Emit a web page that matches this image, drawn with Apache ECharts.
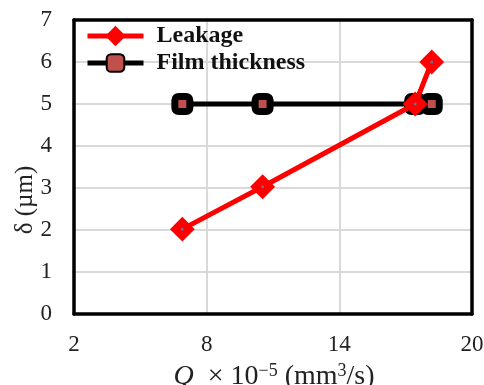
<!DOCTYPE html>
<html>
<head>
<meta charset="utf-8">
<script src="https://cdn.jsdelivr.net/npm/echarts@6/dist/echarts.min.js"></script>
<style>
html,body{margin:0;padding:0;background:#fff;}
#chart{width:484px;height:385px;}
</style>
</head>
<body>
<div id="chart"></div>
<script>
// Flow rate Q (×10^-5 mm³/s) and film thickness δ (µm)
const leakageQ = [6.9, 10.53, 17.43, 18.18];
const leakageDelta = [2.02, 3.03, 5.0, 6.0];
const filmQ = [6.9, 10.53, 17.43, 18.18];
const filmDelta = [5.0, 5.0, 5.0, 5.0];
const xTicks = [2, 8, 14, 20];
const yTicks = [0, 1, 2, 3, 4, 5, 6, 7];

const serif = '"Liberation Serif", "DejaVu Serif", serif';
const pairs = (xs, ys) => xs.map((x, i) => [x, ys[i]]);
const frame = { show: true, onZero: false, lineStyle: { color: '#000', width: 3.5 } };
const xMin = xTicks[0], xMax = xTicks[xTicks.length - 1];
const yMin = yTicks[0], yMax = yTicks[yTicks.length - 1];

const chart = echarts.init(document.getElementById('chart'));
chart.setOption({
  animation: false,
  backgroundColor: '#fff',
  grid: { left: 74, right: 12, top: 20, bottom: 71, outerBoundsMode: 'none', containLabel: false },
  legend: {
    left: 80, top: 19, orient: 'vertical', itemGap: 3,
    itemWidth: 56, itemHeight: 22,
    textStyle: { fontFamily: serif, fontWeight: 'bold', fontSize: 24, color: '#111', padding: [0, 0, 0, 8] },
    data: [
      { name: 'Leakage', lineStyle: { width: 5 } },
      { name: 'Film thickness', lineStyle: { width: 5 } }
    ]
  },
  xAxis: [{
    type: 'value', min: xMin, max: xMax, interval: 6,
    axisLine: frame, axisTick: { show: false },
    splitLine: { show: true, lineStyle: { color: '#d9d9d9', width: 2 } },
    axisLabel: { fontFamily: serif, fontSize: 23, color: '#222', margin: 19 },
    name: '{q|Q}{n|  × 10}{s|−5}{n| (mm}{s|3}{n|/s)}',
    nameLocation: 'middle', nameGap: 48, nameMoveOverlap: false,
    nameTextStyle: {
      padding: [0, 0, 0, 2],
      rich: {
        q: { fontFamily: serif, fontStyle: 'italic', fontSize: 28, color: '#222' },
        n: { fontFamily: serif, fontSize: 28, color: '#222' },
        s: { fontFamily: serif, fontSize: 18, color: '#222', verticalAlign: 'top', padding: [0, 0, 12, 0] }
      }
    }
  }, {
    type: 'value', position: 'top', min: xMin, max: xMax,
    axisLine: frame, axisTick: { show: false }, axisLabel: { show: false }, splitLine: { show: false }
  }],
  yAxis: [{
    type: 'value', min: yMin, max: yMax, interval: 1,
    axisLine: frame, axisTick: { show: false },
    splitLine: { show: true, lineStyle: { color: '#d9d9d9', width: 2 } },
    axisLabel: { fontFamily: serif, fontSize: 23, color: '#222', margin: 22 },
    name: 'δ (µm)', nameLocation: 'middle', nameGap: 36, nameMoveOverlap: false,
    nameTextStyle: { fontFamily: serif, fontSize: 25, color: '#222', padding: [0, 66, 0, 0] }
  }, {
    type: 'value', position: 'right', min: yMin, max: yMax,
    axisLine: frame, axisTick: { show: false }, axisLabel: { show: false }, splitLine: { show: false }
  }],
  series: [
    {
      name: 'Film thickness', type: 'line', z: 2,
      data: pairs(filmQ, filmDelta),
      lineStyle: { color: '#000', width: 5 },
      symbol: 'roundRect', symbolSize: 15,
      itemStyle: { color: '#c0504d', borderColor: '#000', borderWidth: 7 }
    },
    {
      name: 'Leakage', type: 'line', z: 3,
      data: pairs(leakageQ, leakageDelta),
      lineStyle: { color: '#ff0000', width: 5 },
      symbol: 'diamond', symbolSize: 22,
      itemStyle: { color: '#ff0000', borderColor: '#ff0000', borderWidth: 2 }
    },
    {
      name: 'Leakage centre', type: 'scatter', z: 4, silent: true,
      data: pairs(leakageQ, leakageDelta),
      symbol: 'circle', symbolSize: 3,
      itemStyle: { color: '#4f81bd' }
    }
  ]
});
</script>
</body>
</html>
